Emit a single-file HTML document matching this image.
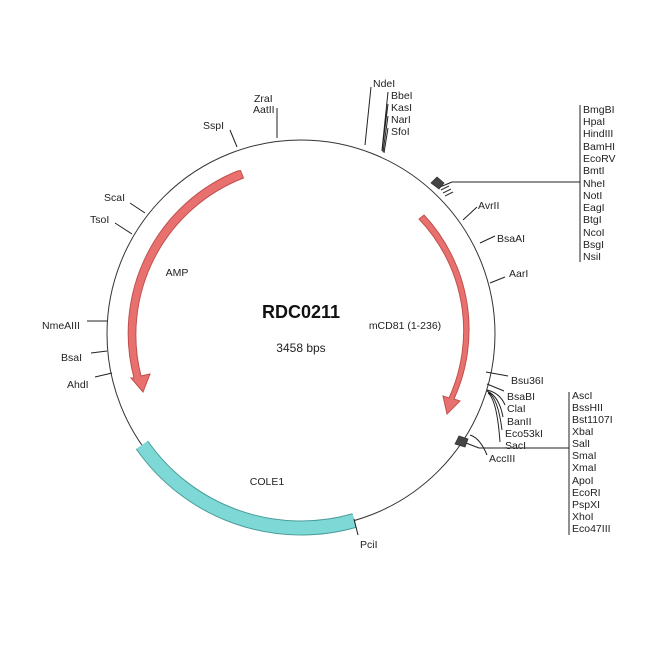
<!DOCTYPE html>
<html><head><meta charset="utf-8"><style>
html,body{margin:0;padding:0;background:#fff;width:650px;height:650px;overflow:hidden}
svg text{font-family:"Liberation Sans",Arial,sans-serif;font-size:10.5px;fill:#222}
</style></head><body>
<svg width="650" height="650" viewBox="0 0 650 650" xmlns="http://www.w3.org/2000/svg">
<circle cx="301" cy="334" r="194" fill="none" stroke="#333" stroke-width="1"/>
<path d="M354.5,520.5 A194,194 0 0 1 142,445" fill="none" stroke="#4a9c9a" stroke-width="15"/>
<path d="M354.5,520.5 A194,194 0 0 1 142,445" fill="none" stroke="#7dd8d6" stroke-width="13"/>
<g fill="#e8716f" stroke="#c0504d" stroke-width="1">
<path d="M240.5,170.5 L243.5,178 A168,168 0 0 0 141,376 L150,374 L143,392 L131,378 L134,378 A175,175 0 0 1 237.5,171 Z"/>
<path d="M424,215 A168,168 0 0 1 454,399 L460,401 L447,414 L443,396 L449,398 A162,162 0 0 0 419,219 Z"/>
</g>
<text x="301" y="318" text-anchor="middle" style="font-size:18px;font-weight:bold;fill:#111">RDC0211</text>
<text x="301" y="352" text-anchor="middle" style="font-size:12px">3458 bps</text>
<text x="177" y="276" text-anchor="middle">AMP</text>
<text x="405" y="329" text-anchor="middle">mCD81 (1-236)</text>
<text x="267" y="485" text-anchor="middle">COLE1</text>
<g stroke="#222" stroke-width="1" fill="none">
<path d="M277,108 L277,138"/>
<path d="M230,130 L237,147"/>
<path d="M130,203 L145,213"/>
<path d="M115,223 L132,234"/>
<path d="M87,321 L107,321"/>
<path d="M91,353 L107,351"/>
<path d="M95,377 L112,373"/>
<path d="M354,519 L358,535"/>
<path d="M371,87 L365,145"/>
<path d="M388,92 L382,150 M388,104 L382,151 M388,116 L383,152 M388,128 L384,153" />
<path d="M452,182 L580,182 M580,105 L580,262"/>
<path d="M440,187 L452,182"/>
<path d="M463,220 L477,207"/>
<path d="M480,243 L495,236"/>
<path d="M490,283 L505,277"/>
<path d="M486,372 L508,376 M487,384 L504,391"/>
<path d="M487,390 Q500,393 505,405 M487,391 Q499,396 503,417 M488,392 Q498,398 502,430 M488,393 Q497,400 500,442"/>
<path d="M479,448 L569,448 M569,392 L569,535"/>
<path d="M470,435 Q480,438 487,455"/>
<path d="M466,443 L479,448"/>
</g>
<g fill="#444" stroke="#333" stroke-width="0.8">
<path d="M431,183 L437,177 L444,183 L439,189 Z"/>
<path d="M455,444 L459,436 L468,439 L465,447 Z"/>
</g>
<g stroke="#333" stroke-width="1">
<path d="M441,190 L449,186 M443,193 L451,189 M445,196 L453,192"/>
</g>
<text x="373" y="87">NdeI</text>
<text x="391" y="99">BbeI</text>
<text x="391" y="111">KasI</text>
<text x="391" y="123">NarI</text>
<text x="391" y="135">SfoI</text>
<text x="254" y="102">ZraI</text>
<text x="253" y="113">AatII</text>
<text x="203" y="129">SspI</text>
<text x="104" y="201">ScaI</text>
<text x="90" y="223">TsoI</text>
<text x="42" y="329">NmeAIII</text>
<text x="61" y="361">BsaI</text>
<text x="67" y="388">AhdI</text>
<text x="360" y="548">PciI</text>
<text x="478" y="209">AvrII</text>
<text x="497" y="242">BsaAI</text>
<text x="509" y="277">AarI</text>
<text x="511" y="384">Bsu36I</text>
<text x="507" y="400">BsaBI</text>
<text x="507" y="412">ClaI</text>
<text x="507" y="425">BanII</text>
<text x="505" y="437">Eco53kI</text>
<text x="505" y="449">SacI</text>
<text x="489" y="462">AccIII</text>
<g>
<text x="583" y="113">BmgBI</text>
<text x="583" y="125">HpaI</text>
<text x="583" y="137">HindIII</text>
<text x="583" y="150">BamHI</text>
<text x="583" y="162">EcoRV</text>
<text x="583" y="174">BmtI</text>
<text x="583" y="187">NheI</text>
<text x="583" y="199">NotI</text>
<text x="583" y="211">EagI</text>
<text x="583" y="223">BtgI</text>
<text x="583" y="236">NcoI</text>
<text x="583" y="248">BsgI</text>
<text x="583" y="260">NsiI</text>
</g>
<g>
<text x="572" y="399">AscI</text>
<text x="572" y="411">BssHII</text>
<text x="572" y="423">Bst1107I</text>
<text x="572" y="435">XbaI</text>
<text x="572" y="447">SalI</text>
<text x="572" y="459">SmaI</text>
<text x="572" y="471">XmaI</text>
<text x="572" y="484">ApoI</text>
<text x="572" y="496">EcoRI</text>
<text x="572" y="508">PspXI</text>
<text x="572" y="520">XhoI</text>
<text x="572" y="532">Eco47III</text>
</g>
</svg>
</body></html>
